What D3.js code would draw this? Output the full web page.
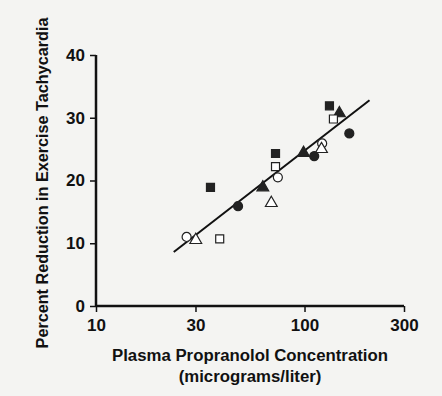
<!DOCTYPE html>
<html>
<head>
<meta charset="utf-8">
<script src="https://cdn.jsdelivr.net/npm/d3@7"></script>
<style>
  html, body { margin: 0; padding: 0; background: #f4f4f2; }
  svg { display: block; }
  text { font-family: "Liberation Sans", Arial, sans-serif; font-weight: bold; fill: #111; }
</style>
</head>
<body>
<svg id="chart"></svg>
<script>
// concentration (ug/L), percent reduction, marker kind
const concentrations = [35.4, 27.2, 30.1, 39.2, 48, 131.7, 147, 137.6, 164, 121.5, 120.6, 98.9, 111.3, 72.6, 72.6, 74.5, 63.1, 69.3];
const reductions     = [18.9, 11.0, 10.5, 10.7, 15.9, 31.9, 30.7, 29.8, 27.5, 25.9, 25.0, 24.4, 23.9, 24.3, 22.2, 20.5, 18.9, 16.4];
const markers = ["sqFill", "circOpen", "triOpen", "sqOpen", "circFill", "sqFill", "triFill", "sqOpen", "circFill",
                 "circOpen", "triOpen", "triFill", "circFill", "sqFill", "sqOpen", "circOpen", "triFill", "triOpen"];

// fitted line end points
const fitX = [23.6, 205];
const fitY = [8.6, 32.8];

const xTicks = [10, 30, 100, 300];
const yTicks = [0, 10, 20, 30, 40];

const width = 442, height = 396;
const svg = d3.select("#chart").attr("width", width).attr("height", height);

const x = d3.scaleLog().domain([10, 300]).range([96, 404]);
const y = d3.scaleLinear().domain([0, 40]).range([306, 55]);

// axes
const xAxis = svg.append("g")
  .attr("transform", `translate(0,${y(0)})`)
  .call(d3.axisBottom(x).tickValues(xTicks).tickFormat(d3.format("d")).tickSize(6).tickPadding(7));
const yAxis = svg.append("g")
  .attr("transform", `translate(${x(10)},0)`)
  .call(d3.axisLeft(y).tickValues(yTicks).tickSize(6).tickPadding(5));

[xAxis, yAxis].forEach(g => {
  g.select(".domain").attr("stroke", "#111").attr("stroke-width", 2.5);
  g.selectAll(".tick line").attr("stroke", "#111").attr("stroke-width", 1.5);
  g.selectAll(".tick text").attr("font-size", 17).attr("font-family", "Liberation Sans, Arial, sans-serif")
    .attr("font-weight", "bold").attr("fill", "#111");
});
xAxis.select(".domain").attr("d", `M${x(10)},0H${x(300)}`);
yAxis.select(".domain").attr("d", `M0,${y(40)}V${y(0)}`);

// axis titles
svg.append("text")
  .attr("x", 250).attr("y", 361)
  .attr("text-anchor", "middle").attr("font-size", 16.8)
  .text("Plasma Propranolol Concentration");
svg.append("text")
  .attr("x", 250).attr("y", 382)
  .attr("text-anchor", "middle").attr("font-size", 16.8)
  .text("(micrograms/liter)");
svg.append("text")
  .attr("transform", "translate(48,183) rotate(-90)")
  .attr("text-anchor", "middle").attr("font-size", 16.2)
  .text("Percent Reduction in Exercise Tachycardia");

// fit line
svg.append("line")
  .attr("x1", x(fitX[0])).attr("y1", y(fitY[0]))
  .attr("x2", x(fitX[1])).attr("y2", y(fitY[1]))
  .attr("stroke", "#111").attr("stroke-width", 2);

// points
const points = concentrations.map((c, i) => ({ c, r: reductions[i], m: markers[i] }));
const symbolType = { sq: d3.symbolSquare, circ: d3.symbolCircle, tri: d3.symbolTriangle };
const symbolSize = { sq: 64, circ: 64, tri: 60 };

svg.append("g").selectAll("path")
  .data(points)
  .enter()
  .append("path")
  .attr("transform", d => `translate(${x(d.c)},${y(d.r)})`)
  .attr("d", d => {
    const kind = d.m.replace(/Fill|Open/, "");
    return d3.symbol().type(symbolType[kind]).size(symbolSize[kind])();
  })
  .attr("fill", d => d.m.endsWith("Fill") ? "#222" : "#fff")
  .attr("stroke", "#222")
  .attr("stroke-width", 1.2);
</script>
</body>
</html>
